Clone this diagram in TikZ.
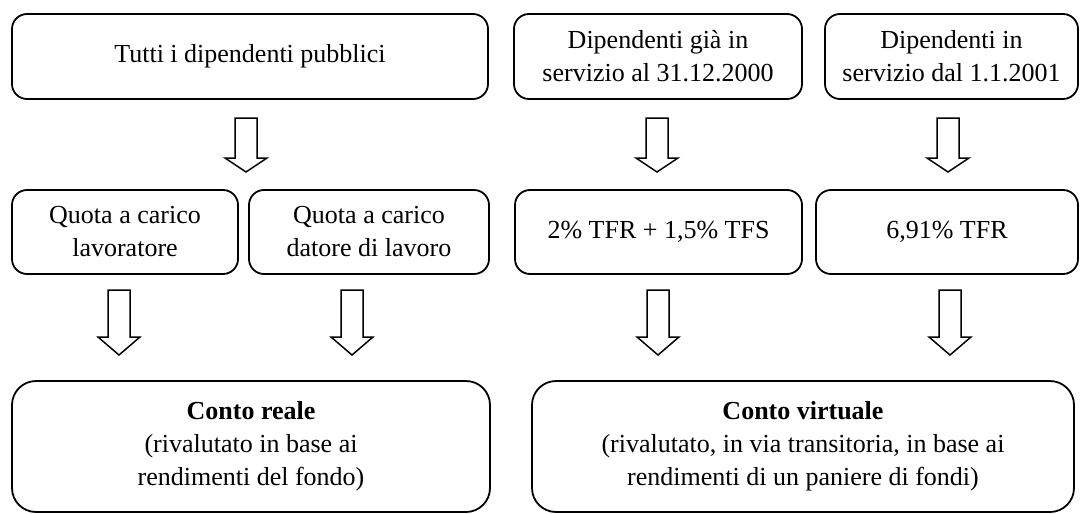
\documentclass[tikz,border=0pt]{standalone}
\usepackage{fontspec}
\setmainfont{Liberation Serif}
\begin{document}
\begin{tikzpicture}
  [x=1pt,y=-1pt,
   every node/.style={draw,rounded corners=15pt,line width=1.8pt,align=center,
     inner sep=0pt,font=\fontsize{26}{33}\selectfont},
   bigbox/.style={rounded corners=24pt,minimum height=131pt},
   blockarrow/.style={line width=1.5pt,line join=miter}]
  \useasboundingbox (0,0) rectangle (1085,514);

  % top row
  \node[minimum width=476pt,minimum height=85pt] (tutti) at (250,56.5) {Tutti i dipendenti pubblici};
  \node[minimum width=288pt,minimum height=85pt] (gia) at (658,56.5) {Dipendenti già in\\servizio al 31.12.2000};
  \node[minimum width=253pt,minimum height=85pt] (dal) at (951.5,56.5) {Dipendenti in\\servizio dal 1.1.2001};

  % middle row
  \node[minimum width=226pt,minimum height=84pt] (lav) at (125,232) {Quota a carico\\lavoratore};
  \node[minimum width=240pt,minimum height=84pt] (dat) at (369,232) {Quota a carico\\datore di lavoro};
  \node[minimum width=287pt,minimum height=84pt] (tfs) at (658.5,232) {2\% TFR + 1,5\% TFS};
  \node[minimum width=262pt,minimum height=84pt] (tfr) at (947,232) {6,91\% TFR};

  % bottom row
  \node[bigbox,minimum width=478pt] (reale) at (251,446.5) {\textbf{Conto reale}\\(rivalutato in base ai\\rendimenti del fondo)};
  \node[bigbox,minimum width=542pt] (virt) at (803,446.5) {\textbf{Conto virtuale}\\(rivalutato, in via transitoria, in base ai\\rendimenti di un paniere di fondi)};

  \foreach \x/\ya/\yh/\yb in {246/118/158/172, 657/118/158/172, 948/118/158/172,
      119/290/337/355, 352/290/337/355, 658/290/337/355, 950/290/337/355}
    \draw[blockarrow] (\x-11,\ya) -- (\x+11,\ya) -- (\x+11,\yh) -- (\x+21,\yh)
      -- (\x,\yb) -- (\x-21,\yh) -- (\x-11,\yh) -- cycle;

\end{tikzpicture}
\end{document}
